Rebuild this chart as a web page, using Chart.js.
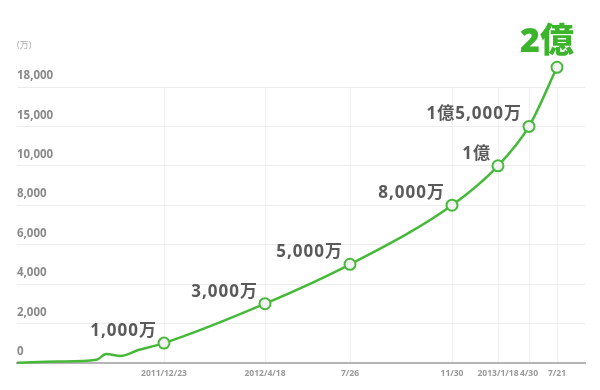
<!DOCTYPE html>
<html><head><meta charset="utf-8">
<script src="https://cdn.jsdelivr.net/npm/chart.js@4/dist/chart.umd.min.js"></script>
<style>html,body{margin:0;padding:0;background:#fff}</style>
</head><body>
<canvas id="c" width="600" height="390"></canvas>
<script>
// ---- data ----
const dates = ['2011-06-23','2011-08-13','2011-09-30','2011-10-12','2011-10-30','2011-11-21','2011-12-23','2012-04-18','2012-07-26','2012-11-30','2013-01-18','2013-04-30','2013-07-21'];
const users = [0, 60, 150, 450, 350, 650, 1000, 3000, 5000, 8000, 10000, 15000, 20000]; // 万人
const milestoneLabels = ['', '', '', '', '', '', '1,000万', '3,000万', '5,000万', '8,000万', '1億', '1億5,000万', '2億'];
const xTickDates = ['2011-12-23','2012-04-18','2012-07-26','2012-11-30','2013-01-18','2013-04-30','2013-07-21'];
const xTickLabels = ['2011/12/23','2012/4/18','7/26','11/30','2013/1/18','4/30','7/21'];
const yTickValues = [0, 2000, 4000, 6000, 8000, 10000, 15000, 18000];
const unitLabel = '(万)';

const origin = Date.UTC(2011, 5, 23);
function dayOf(s){ const [y,m,d] = s.split('-').map(Number); return Math.round((Date.UTC(y,m-1,d) - origin) / 86400000); }

// piecewise-linear axis (the original chart uses an irregular spacing on both axes)
class PiecewiseScale extends Chart.LinearScale {
  static id = 'piecewise';
  _step(v){
    const b = this.options.breaks, s = this.options.steps;
    let i = 0;
    while (i < b.length - 2 && v > b[i+1]) i++;
    return s[i] + (v - b[i]) * (s[i+1] - s[i]) / (b[i+1] - b[i]);
  }
  _unstep(t){
    const b = this.options.breaks, s = this.options.steps;
    let i = 0;
    while (i < s.length - 2 && t > s[i+1]) i++;
    return b[i] + (t - s[i]) * (b[i+1] - b[i]) / (s[i+1] - s[i]);
  }
  buildTicks(){ return this.options.tickValues.map(v => ({value: v})); }
  getPixelForValue(v){
    if (v == null || isNaN(v)) return NaN;
    const a = this._step(this.min), z = this._step(this.max);
    return this.getPixelForDecimal((this._step(v) - a) / (z - a));
  }
  getValueForPixel(p){
    const a = this._step(this.min), z = this._step(this.max);
    return this._unstep(a + this.getDecimalForPixel(p) * (z - a));
  }
}
Chart.register(PiecewiseScale);

const GREEN = '#47b93a';
const FONT = "'Open Sans', 'Noto Sans CJK JP', sans-serif";

const labelPlugin = {
  id: 'milestones',
  afterDatasetsDraw(chart){
    const ctx = chart.ctx;
    const meta = chart.getDatasetMeta(0);
    const last = users.length - 1;
    const area = chart.chartArea;
    ctx.save();
    // points lying above the plot area (the 2億 point) are skipped by Chart.js; draw them here
    meta.data.forEach(pt => {
      if (pt.options && pt.options.radius > 0 && (pt.y < area.top - 1)) pt.draw(ctx);
    });
    ctx.textBaseline = 'middle';
    meta.data.forEach((pt, i) => {
      const t = milestoneLabels[i];
      if (!t) return;
      if (i === last) {
        ctx.font = `800 34px ${FONT}`;
        ctx.fillStyle = '#3cb52c';
        ctx.textAlign = 'center';
        ctx.letterSpacing = '0px';
        ctx.fillText(t, pt.x - 10, pt.y - 25);
      } else {
        ctx.font = `bold 17px ${FONT}`;
        ctx.fillStyle = '#5a5a5a';
        ctx.textAlign = 'right';
        ctx.letterSpacing = '1px';
        const dx = (i === 6) ? 7 : 7;
        ctx.fillText(t, pt.x - dx, pt.y - 12);
      }
    });
    ctx.letterSpacing = '0px';
    ctx.font = `9px ${FONT}`;
    ctx.fillStyle = '#aaa';
    ctx.textAlign = 'left';
    ctx.fillText(unitLabel, area.left, 45);
    ctx.restore();
  }
};

new Chart(document.getElementById('c'), {
  type: 'line',
  data: {
    datasets: [{
      data: dates.map((d, i) => ({x: dayOf(d), y: users[i]})),
      borderColor: GREEN,
      borderWidth: 2.5,
      cubicInterpolationMode: 'monotone',
      pointRadius: milestoneLabels.map(l => l ? 5.5 : 0),
      pointBackgroundColor: '#f2f2f2',
      pointBorderColor: GREEN,
      pointBorderWidth: 2,
      clip: false
    }]
  },
  options: {
    responsive: false,
    animation: false,
    devicePixelRatio: 1,
    layout: { padding: { left: 17, right: 15, top: 87, bottom: 5 } },
    plugins: { legend: { display: false }, tooltip: { enabled: false } },
    scales: {
      x: {
        type: 'piecewise',
        min: 0, max: 841,
        breaks: [0, 183, 300, 399, 526, 575, 677, 759, 841],
        steps: [0, 147, 248, 333, 435, 481, 512, 540, 568],
        tickValues: xTickDates.map(dayOf),
        grid: { color: '#f0f0f0', lineWidth: 1, drawTicks: false },
        border: { display: true, color: '#b5b5b5', width: 2 },
        ticks: {
          autoSkip: false, maxRotation: 0, padding: 6,
          color: '#999', font: { family: FONT, size: 8.5, weight: 'bold' },
          callback: (v, i) => xTickLabels[i]
        }
      },
      y: {
        type: 'piecewise',
        min: 0, max: 18000,
        breaks: [0, 2000, 4000, 6000, 8000, 10000, 15000, 18000, 20000],
        steps: [0, 1, 2, 3, 4, 5, 6, 7, 7.5],
        tickValues: yTickValues,
        grid: { color: '#ececec', lineWidth: 1, drawTicks: false },
        border: { display: false },
        ticks: {
          mirror: true, padding: 0, labelOffset: -11,
          color: '#8a8a8a', font: { family: FONT, size: 11.5, weight: 'bold' },
          callback: (v) => Number(v).toLocaleString('en-US')
        }
      }
    }
  },
  plugins: [labelPlugin]
});
</script>
</body></html>
